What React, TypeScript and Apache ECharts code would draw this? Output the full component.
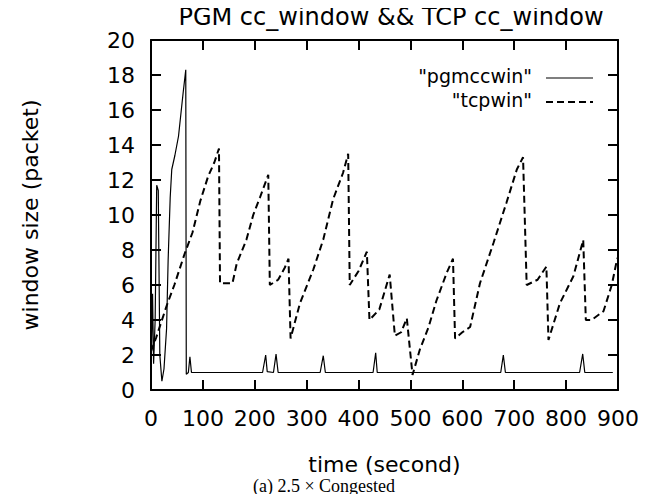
import React, { useEffect, useRef } from "react";
import * as echarts from "echarts";

const titleText = "PGM cc_window && TCP cc_window";
const xAxisName = "time (second)";
const yAxisName = "window size (packet)";
const caption = "(a) 2.5 \u00d7 Congested";
const legendNames = ['"pgmccwin"', '"tcpwin"'];

const xTicks = [0, 100, 200, 300, 400, 500, 600, 700, 800, 900];
const yTicks = [0, 2, 4, 6, 8, 10, 12, 14, 16, 18, 20];

const pgmTime = [0, 3, 5, 8, 11, 14, 17, 21, 25, 30, 33, 37, 40, 46, 53, 62, 67, 68, 72, 75, 78, 215, 221, 224, 236, 241, 245, 326, 332, 336, 428, 433, 436, 674, 679, 683, 826, 832, 836, 890];
const pgmWin = [1.0, 5.5, 1.5, 4.0, 11.7, 11.4, 2.0, 0.5, 1.2, 3.5, 7.4, 11.0, 12.6, 13.4, 14.5, 17.0, 18.3, 0.9, 1.0, 1.9, 1.0, 1.0, 2.0, 1.05, 1.0, 2.05, 1.0, 1.0, 1.96, 1.0, 1.0, 2.13, 1.0, 1.0, 2.0, 1.0, 1.0, 2.06, 1.0, 1.0];

const tcpTime = [0, 10, 20, 30, 45, 65, 80, 95, 110, 122, 131, 133, 157, 165, 184, 197, 210, 226, 229, 245, 258, 265, 269, 287, 313, 332, 351, 370, 380, 383, 400, 416, 421, 440, 460, 470, 482, 493, 504, 518, 535, 550, 570, 582, 586, 600, 615, 634, 660, 685, 705, 717, 724, 745, 762, 766, 788, 814, 833, 838, 849, 872, 888, 897, 900];
const tcpWin = [2.2, 3.0, 3.9, 4.8, 6.0, 7.8, 9.0, 10.8, 12.2, 13.0, 13.8, 6.1, 6.1, 7.2, 8.6, 10.0, 11.0, 12.3, 6.0, 6.3, 7.0, 7.5, 2.95, 4.95, 6.9, 8.6, 10.9, 12.4, 13.5, 6.0, 6.8, 7.9, 4.0, 4.6, 6.6, 3.1, 3.3, 4.1, 0.86, 2.3, 3.6, 5.1, 6.7, 7.5, 2.95, 3.3, 3.6, 6.1, 8.4, 10.7, 12.6, 13.3, 6.0, 6.3, 7.05, 2.86, 4.95, 6.5, 8.57, 4.0, 4.0, 4.5, 6.0, 7.3, 7.6];

const SANS = "DejaVu Sans";

export default function App() {
  const ref = useRef<HTMLDivElement>(null);
  useEffect(() => {
    if (!ref.current) return;
    const chart = echarts.init(ref.current, null, { renderer: "svg" });
    const pgmData = pgmTime.map((t, i) => [t, pgmWin[i]]);
    const tcpData = tcpTime.map((t, i) => [t, tcpWin[i]]);
    const axisLine = { show: true, onZero: false, lineStyle: { color: "#000", width: 2 } };
    const tick = { show: true, inside: true, length: 10, lineStyle: { color: "#000", width: 2 } };
    const xCommon = {
      type: "value" as const,
      min: xTicks[0],
      max: xTicks[xTicks.length - 1],
      interval: 100,
      splitLine: { show: false },
      axisLine,
      axisTick: tick,
    };
    const yCommon = {
      type: "value" as const,
      min: yTicks[0],
      max: yTicks[yTicks.length - 1],
      interval: 2,
      splitLine: { show: false },
      axisLine,
      axisTick: tick,
    };
    chart.setOption({
      animation: false,
      backgroundColor: "#fff",
      title: {
        text: titleText,
        left: 386,
        top: 0,
        textAlign: "center",
        textStyle: { fontFamily: SANS, fontSize: 24, fontWeight: "normal", color: "#000" },
      },
      grid: { left: 151, right: 34, top: 40, bottom: 112 },
      xAxis: [
        {
          ...xCommon,
          position: "bottom",
          name: xAxisName,
          nameLocation: "middle",
          nameGap: 63,
          nameTextStyle: { fontFamily: SANS, fontSize: 22, color: "#000" },
          axisLabel: { show: true, margin: 17, fontFamily: SANS, fontSize: 22, color: "#000" },
        },
        { ...xCommon, position: "top", axisLabel: { show: false } },
      ],
      yAxis: [
        {
          ...yCommon,
          position: "left",
          name: yAxisName,
          nameLocation: "middle",
          nameGap: 110,
          nameRotate: 90,
          nameTextStyle: { fontFamily: SANS, fontSize: 22, color: "#000" },
          axisLabel: { show: true, margin: 16, fontFamily: SANS, fontSize: 22, color: "#000" },
        },
        { ...yCommon, position: "right", axisLabel: { show: false } },
      ],
      series: [
        {
          name: legendNames[0],
          type: "line",
          data: pgmData,
          xAxisIndex: 0,
          yAxisIndex: 0,
          showSymbol: false,
          symbol: "none",
          lineStyle: { color: "#000", width: 1.2, type: "solid" },
        },
        {
          name: legendNames[1],
          type: "line",
          data: tcpData,
          xAxisIndex: 0,
          yAxisIndex: 0,
          showSymbol: false,
          symbol: "none",
          lineStyle: { color: "#000", width: 2, type: [7, 4] },
        },
      ],
      graphic: [
        {
          type: "text",
          x: 532,
          y: 76,
          style: { text: legendNames[0], align: "right", verticalAlign: "middle", fontFamily: SANS, fontSize: 19, fill: "#000" },
        },
        {
          type: "line",
          shape: { x1: 546, y1: 78, x2: 593, y2: 78 },
          style: { stroke: "#000", lineWidth: 1.2 },
        },
        {
          type: "text",
          x: 532,
          y: 100,
          style: { text: legendNames[1], align: "right", verticalAlign: "middle", fontFamily: SANS, fontSize: 19, fill: "#000" },
        },
        {
          type: "line",
          shape: { x1: 546, y1: 102, x2: 593, y2: 102 },
          style: { stroke: "#000", lineWidth: 2, lineDash: [7, 4] },
        },
        {
          type: "text",
          x: 324,
          y: 486,
          style: { text: caption, align: "center", verticalAlign: "middle", fontFamily: "Liberation Serif", fontSize: 18, fill: "#000" },
        },
      ],
    });
    return () => chart.dispose();
  }, []);
  return <div ref={ref} style={{ width: 652, height: 502, margin: -8 }} />;
}
